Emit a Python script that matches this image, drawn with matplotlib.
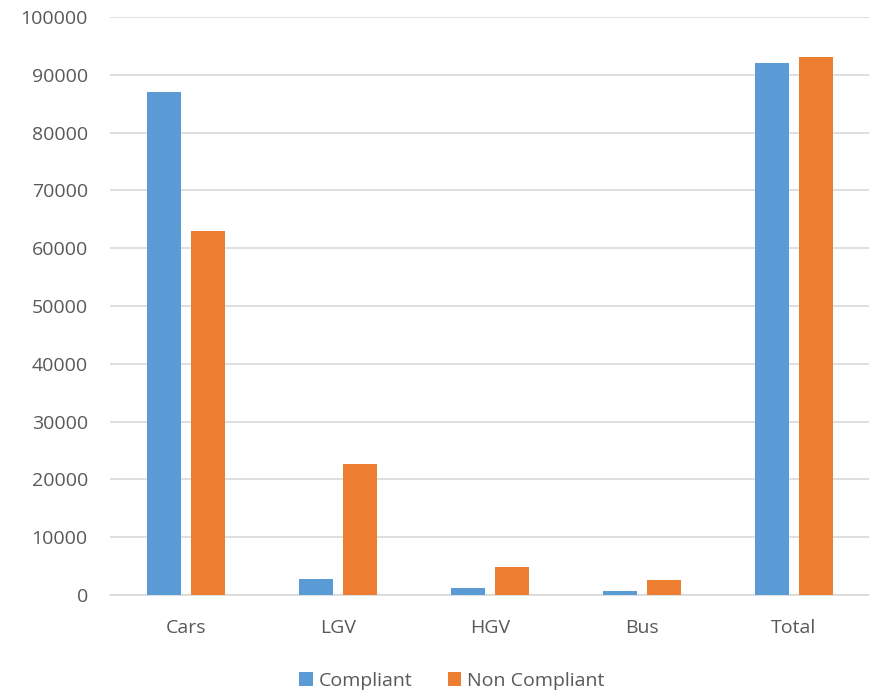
import numpy as np
import matplotlib.pyplot as plt

# datos
categorias = ['Cars', 'LGV', 'HGV', 'Bus', 'Total']
compliant = [87000, 2800, 1200, 700, 92000]
non_compliant = [62900, 22600, 4800, 2600, 93000]
yticks = [0, 10000, 20000, 30000, 40000, 50000, 60000, 70000, 80000, 90000, 100000]

plt.rcParams['font.family'] = ['Open Sans', 'DejaVu Sans']

fig = plt.figure(figsize=(8.69, 6.9), dpi=100)
ax = fig.add_axes([0.1266, 0.1377, 0.874, 0.8377])

x = np.arange(len(categorias))
ancho = 0.224
sep = 0.066
ax.bar(x - (ancho + sep) / 2, compliant, ancho, color='#5B9BD5', label='Compliant', zorder=3)
ax.bar(x + (ancho + sep) / 2, non_compliant, ancho, color='#ED7D31', label='Non Compliant', zorder=3)

ax.set_xlim(-0.5, 4.5)
ax.set_ylim(0, 100000)
ax.set_yticks(yticks)
ax.set_yticklabels([str(v) for v in yticks])
ax.set_xticks(x)
ax.set_xticklabels(categorias)

ax.grid(axis='y', color='#d9d9d9', linewidth=1.2, zorder=0)
for s in ['top', 'right', 'left']:
    ax.spines[s].set_visible(False)
ax.spines['bottom'].set_color('#d9d9d9')
ax.spines['bottom'].set_linewidth(1.2)
ax.tick_params(axis='both', length=0, labelsize=14, colors='#595959')
ax.tick_params(axis='y', pad=16)
ax.tick_params(axis='x', pad=17)

fig.legend(loc='lower center', bbox_to_anchor=(0.52, -0.025), ncol=2, frameon=False,
           fontsize=14, handlelength=0.7, handleheight=0.7, handletextpad=0.3,
           columnspacing=1.8, labelcolor='#595959')

fig.savefig('out.png', dpi=100)
